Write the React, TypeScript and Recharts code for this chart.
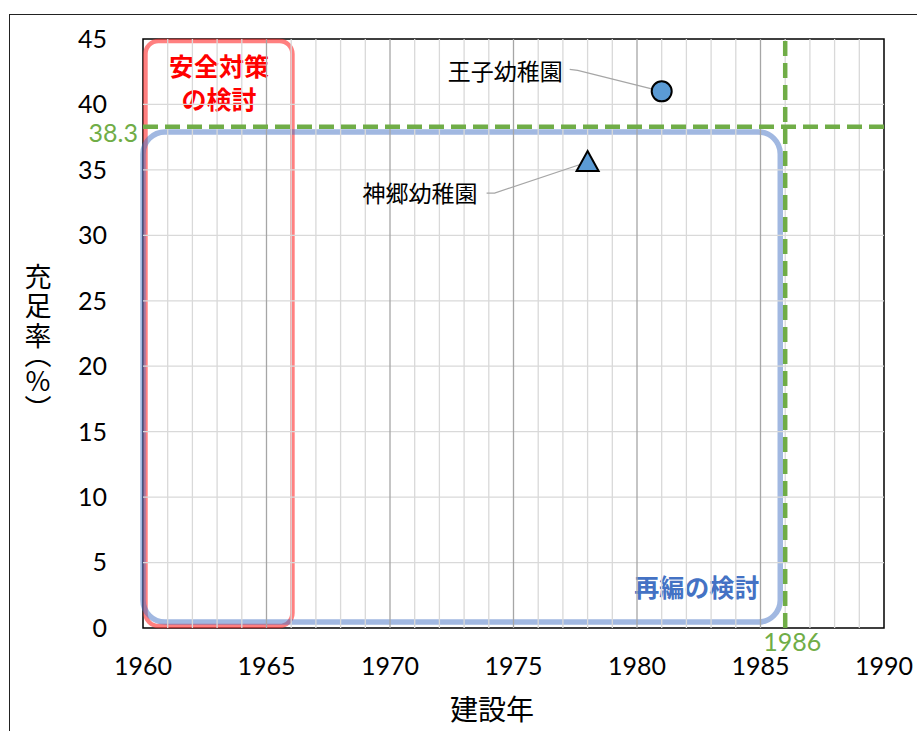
import React from "react";
import {
  ScatterChart,
  Scatter,
  XAxis,
  YAxis,
  ReferenceLine,
  ReferenceArea,
} from "recharts";

// data
const schools = ["王子幼稚園", "神郷幼稚園"];
const buildYears = [1981, 1978];
const fillRates = [41.0, 35.6];

const xTicks = [1960, 1965, 1970, 1975, 1980, 1985, 1990];
const yTicks = [0, 5, 10, 15, 20, 25, 30, 35, 40, 45];
const gridYears = [
  1961, 1962, 1963, 1964, 1965, 1966, 1967, 1968, 1969, 1970, 1971, 1972, 1973, 1974,
  1975, 1976, 1977, 1978, 1979, 1980, 1981, 1982, 1983, 1984, 1985, 1986, 1987, 1988, 1989,
];
const gridRates = [5, 10, 15, 20, 25, 30, 35, 40];

const thresholdRate = 38.3;
const thresholdYear = 1986;

// zones
const safetyZone = { x1: 1960.1, x2: 1966.05, y1: 0.15, y2: 44.85 };
const reorgZone = { x1: 1960, x2: 1985.8, y1: 0.45, y2: 37.9 };

// vertical y-axis title, one glyph per row (baseline y)
const yTitleChars = ["充", "足", "率", "︵", "%", "︶"];
const yTitleRows = [287, 316, 346, 365, 391, 419];

const W = 917;
const H = 731;
const NUM_FONT = "Lato, 'Noto Sans', sans-serif";
const JP_FONT = "'Noto Sans CJK JP', sans-serif";
const GREEN = "#70AD47";

const points = schools.map((name, i) => ({ name, year: buildYears[i], rate: fillRates[i] }));

const CircleMarker = (p: any) => {
  const { cx, cy, payload } = p;
  return (
    <g>
      <polyline
        points={`${cx - 92},${cy - 22} ${cx - 84},${cy - 21} ${cx},${cy}`}
        fill="none"
        stroke="#a6a6a6"
        strokeWidth={1.2}
      />
      <text x={cx - 99} y={cy - 11} textAnchor="end" fontFamily={JP_FONT} fontSize={23} fill="#000">
        {payload.name}
      </text>
      <circle cx={cx} cy={cy} r={10} fill="#5B9BD5" stroke="#000" strokeWidth={2} />
    </g>
  );
};

const TriangleMarker = (p: any) => {
  const { cx, cy, payload } = p;
  return (
    <g>
      <polyline
        points={`${cx - 101},${cy + 31} ${cx - 93},${cy + 31} ${cx},${cy}`}
        fill="none"
        stroke="#a6a6a6"
        strokeWidth={1.2}
      />
      <text x={cx - 110} y={cy + 40} textAnchor="end" fontFamily={JP_FONT} fontSize={23} fill="#000">
        {payload.name}
      </text>
      <path
        d={`M${cx},${cy - 11} L${cx + 11},${cy + 9} L${cx - 11},${cy + 9} Z`}
        fill="#5B9BD5"
        stroke="#000"
        strokeWidth={2}
      />
    </g>
  );
};

const roundedBox = (color: string, width: number, r: number) => (p: any) =>
  (
    <rect
      x={p.x}
      y={p.y}
      width={p.width}
      height={p.height}
      rx={r}
      ry={r}
      fill="none"
      stroke={color}
      strokeWidth={width}
    />
  );

export default function App() {
  return (
    <div style={{ position: "absolute", left: 0, top: 0, width: W, height: H, background: "#fff" }}>
      {/* outer chart frame, cropped on the right and bottom */}
      <div
        style={{
          position: "absolute",
          left: 9,
          top: 14,
          width: W,
          height: H,
          borderLeft: "1.5px solid #222",
          borderTop: "1.5px solid #222",
        }}
      />
      <ScatterChart
        width={W}
        height={H}
        margin={{ top: 39, right: 33, bottom: 63, left: 83 }}
        style={{ position: "absolute", left: 0, top: 0 }}
      >
        <XAxis
          type="number"
          dataKey="year"
          domain={[1960, 1990]}
          ticks={xTicks}
          tickLine={false}
          axisLine={false}
          tickSize={0}
          tickMargin={29}
          height={40}
          tick={{ fontSize: 25, fill: "#000", fontFamily: NUM_FONT }}
          label={{
            content: () => (
              <text x={492} y={720} textAnchor="middle" fontFamily={JP_FONT} fontSize={28} fill="#000">
                建設年
              </text>
            ),
          }}
        />
        <YAxis
          type="number"
          dataKey="rate"
          domain={[0, 45]}
          ticks={yTicks}
          tickLine={false}
          axisLine={false}
          tickSize={0}
          tickMargin={36}
          width={60}
          tick={{ fontSize: 25, fill: "#000", fontFamily: NUM_FONT }}
          label={{
            content: () => (
              <g fontFamily={JP_FONT} fontSize={27} fill="#000">
                {yTitleChars.map((ch, i) => (
                  <text key={i} x={38} y={yTitleRows[i]} textAnchor="middle">
                    {ch}
                  </text>
                ))}
              </g>
            ),
          }}
        />

        {gridRates.map((r) => (
          <ReferenceLine key={`h${r}`} y={r} stroke="#d9d9d9" strokeWidth={1.3} />
        ))}
        {gridYears.map((yr) => (
          <ReferenceLine
            key={`v${yr}`}
            x={yr}
            stroke={yr % 5 === 0 ? "#a6a6a6" : "#d9d9d9"}
            strokeWidth={1.3}
          />
        ))}
        <ReferenceArea x1={1960} x2={1990} y1={0} y2={45} fill="none" stroke="#000" strokeWidth={1.5} />

        <ReferenceArea
          {...safetyZone}
          shape={roundedBox("rgba(255,60,60,0.65)", 4.5, 13)}
          label={{
            content: (p: any) => {
              const vb = p.viewBox;
              const cx = vb.x + vb.width / 2;
              return (
                <text textAnchor="middle" fontFamily={JP_FONT} fontWeight={700} fontSize={25} fill="#FF0000">
                  <tspan x={cx} y={vb.y + 35}>安全対策</tspan>
                  <tspan x={cx} y={vb.y + 68}>の検討</tspan>
                </text>
              );
            },
          }}
        />
        <ReferenceArea
          {...reorgZone}
          shape={roundedBox("rgba(68,114,196,0.5)", 5.5, 22)}
          label={{
            content: (p: any) => {
              const vb = p.viewBox;
              return (
                <text
                  x={vb.x + vb.width - 21}
                  y={vb.y + vb.height - 25}
                  textAnchor="end"
                  fontFamily={JP_FONT}
                  fontWeight={700}
                  fontSize={25}
                  fill="#4472C4"
                >
                  再編の検討
                </text>
              );
            },
          }}
        />

        <ReferenceLine
          y={thresholdRate}
          stroke={GREEN}
          strokeWidth={4.5}
          strokeDasharray="15 7"
          label={{
            content: (p: any) => (
              <text
                x={p.viewBox.x - 5}
                y={p.viewBox.y + 15}
                textAnchor="end"
                fontFamily={NUM_FONT}
                fontSize={25}
                fill={GREEN}
              >
                {thresholdRate}
              </text>
            ),
          }}
        />
        <ReferenceLine
          x={thresholdYear}
          stroke={GREEN}
          strokeWidth={4.5}
          strokeDasharray="15 7"
          label={{
            content: (p: any) => (
              <text
                x={p.viewBox.x + 7}
                y={p.viewBox.y + p.viewBox.height + 23}
                textAnchor="middle"
                fontFamily={NUM_FONT}
                fontSize={25}
                fill={GREEN}
              >
                {thresholdYear}
              </text>
            ),
          }}
        />

        <Scatter data={[points[0]]} shape={CircleMarker} isAnimationActive={false} />
        <Scatter data={[points[1]]} shape={TriangleMarker} isAnimationActive={false} />
      </ScatterChart>
    </div>
  );
}
